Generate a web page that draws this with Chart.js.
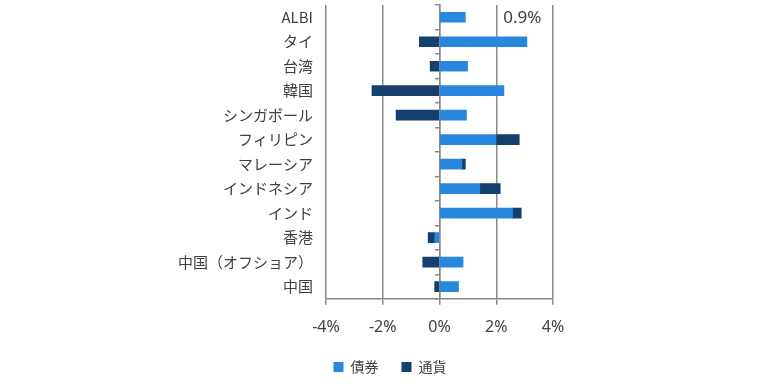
<!DOCTYPE html>
<html>
<head>
<meta charset="utf-8">
<script src="https://cdn.jsdelivr.net/npm/chart.js@4/dist/chart.umd.min.js"></script>
<style>
  html, body { margin: 0; padding: 0; background: #fff; }
  #wrap { width: 780px; height: 386px; position: relative; }
</style>
</head>
<body>
<div id="wrap"><canvas id="chart"></canvas></div>
<script>
// Data (% returns)
const categories = ["ALBI", "タイ", "台湾", "韓国", "シンガポール", "フィリピン", "マレーシア", "インドネシア", "インド", "香港", "中国（オフショア）", "中国"];
const bondValues = [0.9, 3.08, 0.99, 2.27, 0.95, 1.99, 0.79, 1.42, 2.57, -0.17, 0.83, 0.67];
const fxValues = [0, -0.71, -0.33, -2.38, -1.53, 0.82, 0.12, 0.72, 0.31, -0.23, -0.59, -0.17];
const xTicks = [-4, -2, 0, 2, 4];
const albiLabel = "0.9%";

const bondColor = "#2a87de";
const fxColor = "#153f6c";
const gridColor = "#8a8a8a";
const textColor = "#404040";
const jpFont = "'Noto Sans CJK JP', 'Noto Sans', sans-serif";
const legendGap = 23;

// ALBI total label
const albiLabelPlugin = {
  id: "albiLabel",
  afterDraw: (chart) => {
    const ctx = chart.ctx;
    const x = chart.scales.x.getPixelForValue(2.25);
    const y = chart.scales.y.getPixelForValue(0);
    ctx.save();
    ctx.font = "17px 'Noto Sans', sans-serif";
    ctx.fillStyle = textColor;
    ctx.textAlign = "left";
    ctx.textBaseline = "middle";
    ctx.fillText(albiLabel, x, y + 1);
    ctx.restore();
  },
};

const ctx = document.getElementById("chart").getContext("2d");
new Chart(ctx, {
  type: "bar",
  data: {
    labels: categories,
    datasets: [
      {
        label: "債券",
        data: bondValues,
        backgroundColor: bondColor,
        barThickness: 10,
      },
      {
        label: "通貨",
        data: fxValues,
        backgroundColor: fxColor,
        barThickness: 10,
      },
    ],
  },
  options: {
    indexAxis: "y",
    responsive: true,
    maintainAspectRatio: false,
    animation: false,
    layout: { padding: { top: 5, left: 0, right: 0, bottom: 2 } },
    plugins: {
      legend: {
        position: "bottom",
        labels: {
          boxWidth: 10,
          boxHeight: 10,
          padding: legendGap,
          color: textColor,
          font: { family: jpFont, size: 14 },
        },
      },
      tooltip: { enabled: false },
    },
    scales: {
      x: {
        min: -4,
        max: 4,
        stacked: true,
        afterBuildTicks: (scale) => {
          scale.ticks = xTicks.map((v) => ({ value: v }));
        },
        // wider legend padding would push the axis up; give that space back
        afterFit: (scale) => {
          scale.height -= legendGap - 10;
        },
        grid: {
          color: gridColor,
          lineWidth: 1.5,
          tickLength: 6,
        },
        border: { display: true, color: gridColor, width: 1.5 },
        ticks: {
          color: textColor,
          padding: 13,
          font: { family: "'Noto Sans', sans-serif", size: 16 },
          callback: (v) => v + "%",
        },
      },
      y: {
        stacked: true,
        position: "left",
        grid: { display: false, drawTicks: false },
        border: { display: false },
        ticks: {
          color: textColor,
          padding: 13,
          font: { family: jpFont, size: 15 },
        },
        afterFit: (scale) => {
          scale.width = 326;
          scale.paddingTop = 0;
          scale.paddingBottom = 0;
        },
      },
      yZero: {
        type: "category",
        labels: categories,
        position: { x: 0 },
        offset: true,
        grid: {
          offset: true,
          drawOnChartArea: false,
          tickLength: 4,
          color: gridColor,
          lineWidth: 1.5,
        },
        border: { display: true, color: gridColor, width: 1.5 },
        ticks: { display: false },
        afterFit: (scale) => {
          scale.paddingTop = 0;
          scale.paddingBottom = 0;
        },
      },
      yRight: {
        type: "category",
        labels: categories,
        position: "right",
        grid: { display: false, drawTicks: false },
        border: { display: false },
        ticks: { display: false },
        afterFit: (scale) => {
          scale.width = 227;
          scale.paddingTop = 0;
          scale.paddingBottom = 0;
        },
      },
    },
  },
  plugins: [albiLabelPlugin],
});
</script>
</body>
</html>
